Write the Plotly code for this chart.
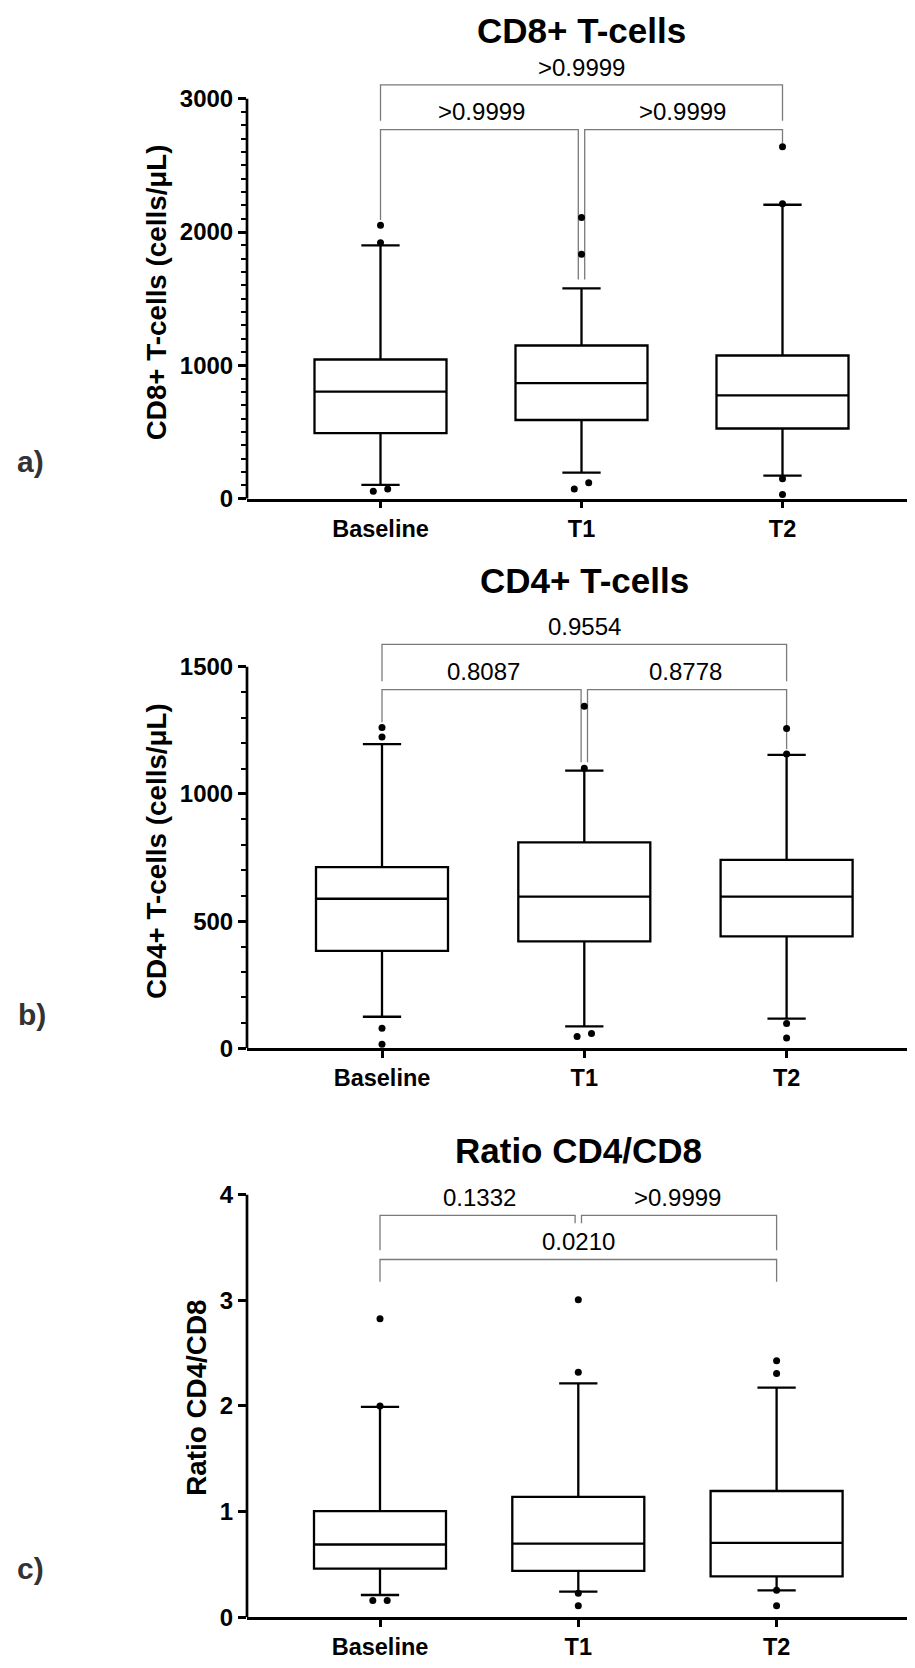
import plotly.graph_objects as go

# ---------------- data ----------------
categories = ["Baseline", "T1", "T2"]

# a) CD8+ T-cells (cells/µL)
cd8_q1 = [492, 590, 526]
cd8_median = [803, 867, 774]
cd8_q3 = [1044, 1149, 1074]
cd8_whisker_low = [103, 195, 172]
cd8_whisker_high = [1900, 1577, 2205]
cd8_outliers = [[2051, 1920, 56, 72], [2110, 1833, 72, 120], [2641, 2213, 149, 31]]
cd8_pvalues = [">0.9999", ">0.9999", ">0.9999"]

# b) CD4+ T-cells (cells/µL)
cd4_q1 = [383, 420, 440]
cd4_median = [588, 596, 596]
cd4_q3 = [712, 810, 741]
cd4_whisker_low = [124, 86, 117]
cd4_whisker_high = [1196, 1092, 1154]
cd4_outliers = [[1261, 1224, 79, 16], [1345, 1101, 46, 58], [1257, 1157, 97, 40]]
cd4_pvalues = ["0.8087", "0.8778", "0.9554"]

# c) Ratio CD4/CD8
ratio_q1 = [0.460, 0.439, 0.388]
ratio_median = [0.689, 0.698, 0.705]
ratio_q3 = [1.004, 1.140, 1.195]
ratio_whisker_low = [0.211, 0.242, 0.255]
ratio_whisker_high = [1.991, 2.213, 2.173]
ratio_outliers = [[2.825, 2.0, 0.160, 0.160], [3.004, 2.320, 0.228, 0.109], [2.427, 2.308, 0.255, 0.109]]
ratio_pvalues = ["0.1332", ">0.9999", "0.0210"]

# comparisons (group index pairs) and bracket placement in data units
pairs = [(0, 1), (1, 2), (0, 2)]
cd8_bracket_bar = [2769, 2769, 3104]
cd8_bracket_legs = [(2090, 1645), (1645, 2667), (2835, 2835)]
cd4_bracket_bar = [1410, 1410, 1588]
cd4_bracket_legs = [(1282, 1125), (1125, 1176), (1443, 1443)]
ratio_bracket_bar = [3.803, 3.803, 3.386]
ratio_bracket_legs = [(3.474, 3.730), (3.730, 3.474), (3.176, 3.176)]

# ---------------- layout helpers ----------------
PAGE_W, PAGE_H = 915, 1668
OFF = 8                      # default body margin of the html page
W, H = PAGE_W - OFF, PAGE_H - OFF
FONT = "Liberation Sans"
AX_LEFT, AX_RIGHT = 247, 915  # page pixels


def fx(px):
    return (px - OFF) / W


def fy(py):
    return 1 - (py - OFF) / H


panels = [
    dict(q1=cd8_q1, med=cd8_median, q3=cd8_q3, lo=cd8_whisker_low, hi=cd8_whisker_high,
         out=cd8_outliers, pv=cd8_pvalues, bar=cd8_bracket_bar, legs=cd8_bracket_legs,
         title="CD8+ T-cells", ytitle="CD8+ T-cells (cells/μL)", label="a)",
         ticks=[0, 1000, 2000, 3000], ticktext=["0", "1000", "2000", "3000"], minor=100,
         y0=502.5, yt=99.5, top=40, c0=380.5, dc=201, title_y=25.5,
         ytitle_x=156, ytitle_y=294.5, label_x=30, label_y=465),
    dict(q1=cd4_q1, med=cd4_median, q3=cd4_q3, lo=cd4_whisker_low, hi=cd4_whisker_high,
         out=cd4_outliers, pv=cd4_pvalues, bar=cd4_bracket_bar, legs=cd4_bracket_legs,
         title="CD4+ T-cells", ytitle="CD4+ T-cells (cells/μL)", label="b)",
         ticks=[0, 500, 1000, 1500], ticktext=["0", "500", "1000", "1500"], minor=100,
         y0=1056.5, yt=672, top=605, c0=382, dc=202.3, title_y=584,
         ytitle_x=156, ytitle_y=857.7, label_x=32, label_y=1022),
    dict(q1=ratio_q1, med=ratio_median, q3=ratio_q3, lo=ratio_whisker_low, hi=ratio_whisker_high,
         out=ratio_outliers, pv=ratio_pvalues, bar=ratio_bracket_bar, legs=ratio_bracket_legs,
         title="Ratio CD4/CD8", ytitle="Ratio CD4/CD8", label="c)",
         ticks=[0, 1, 2, 3, 4], ticktext=["0", "1", "2", "3", "4"], minor=None,
         y0=1630, yt=1204, top=1185, c0=380, dc=198.3, title_y=1159,
         ytitle_x=197, ytitle_y=1408.7, label_x=30, label_y=1581),
]

TITLE_SIZE = 35
TITLE_HALF = 0.6 * TITLE_SIZE  # half height of the title's text box


def spread(values, ppu_y, dx):
    """Beeswarm-like spread: points closer than a dot diameter sit side by side."""
    order = sorted(range(len(values)), key=lambda i: values[i])
    offs = [0.0] * len(values)
    i = 0
    while i < len(order) - 1:
        a, b = order[i], order[i + 1]
        if abs(values[b] - values[a]) * ppu_y < 8:
            offs[a], offs[b] = -dx, dx
            i += 2
        else:
            i += 1
    return offs


fig = go.Figure()
shapes, annotations = [], []
layout_axes = {}
BRACKET = dict(color="#7a7a7a", width=1.3)

for k, p in enumerate(panels):
    n = "" if k == 0 else str(k + 1)
    xa, ya = "x" + n, "y" + n
    ppu_y = (p["y0"] - p["yt"]) / p["ticks"][-1]
    ymax = (p["y0"] - p["top"]) / ppu_y
    xr = [(AX_LEFT - p["c0"]) / p["dc"], (AX_RIGHT - p["c0"]) / p["dc"]]
    pos = list(range(len(categories)))

    fig.add_trace(go.Box(
        x=pos, q1=p["q1"], median=p["med"], q3=p["q3"],
        lowerfence=p["lo"], upperfence=p["hi"],
        width=132 / p["dc"], whiskerwidth=0.29,
        fillcolor="white", line=dict(color="black", width=2.3),
        boxpoints=False, hoverinfo="skip", showlegend=False,
        xaxis=xa, yaxis=ya))

    ox, oy = [], []
    for g, vals in enumerate(p["out"]):
        offs = spread(vals, ppu_y, 7.2 / p["dc"])
        for v, o in zip(vals, offs):
            ox.append(pos[g] + o)
            oy.append(v)
    fig.add_trace(go.Scatter(
        x=ox, y=oy, mode="markers", marker=dict(color="black", size=7),
        hoverinfo="skip", showlegend=False, cliponaxis=False,
        xaxis=xa, yaxis=ya))

    # significance brackets
    gap = 3.2 / p["dc"]
    for (i, j), bar, (l0, l1), txt in zip(pairs, p["bar"], p["legs"], p["pv"]):
        xa0 = pos[i] + (gap if (i == 1) else 0)
        xa1 = pos[j] - (gap if (j == 1) else 0)
        shapes.append(dict(
            type="path", xref=xa, yref=ya, layer="below",
            path=f"M {xa0},{l0} L {xa0},{bar} L {xa1},{bar} L {xa1},{l1}",
            line=BRACKET))
        annotations.append(dict(
            x=(pos[i] + pos[j]) / 2, y=bar, xref=xa, yref=ya, text=txt,
            showarrow=False, yanchor="middle", yshift=17.7,
            font=dict(family=FONT, size=24, color="black")))

    # y-axis line (stops at the top tick)
    shapes.append(dict(type="line", xref=xa + " domain", yref=ya, x0=0, x1=0,
                       y0=0, y1=p["ticks"][-1], line=dict(color="black", width=2.7)))

    # titles and labels (title box kept inside the figure)
    title_top = max(p["title_y"] - TITLE_HALF, OFF + 1)
    annotations.append(dict(x=pos[1], xref=xa, y=fy(title_top), yref="paper",
                            text=p["title"], showarrow=False, xanchor="center", yanchor="top",
                            font=dict(family=FONT, size=TITLE_SIZE, color="black", weight="bold")))
    annotations.append(dict(x=fx(p["ytitle_x"]), xref="paper", y=fy(p["ytitle_y"]), yref="paper",
                            text=p["ytitle"], textangle=-90, showarrow=False,
                            xanchor="center", yanchor="middle",
                            font=dict(family=FONT, size=27.8, color="black", weight="bold")))
    annotations.append(dict(x=fx(p["label_x"]), xref="paper", y=fy(p["label_y"]), yref="paper",
                            text=p["label"], showarrow=False, xanchor="center", yanchor="middle",
                            font=dict(family=FONT, size=30, color="#333333", weight="bold")))

    minor = None
    if p["minor"]:
        step = p["minor"]
        minor = dict(tickmode="array",
                     tickvals=[v for v in range(0, p["ticks"][-1] + 1, step) if v not in p["ticks"]],
                     ticks="outside", ticklen=5, tickwidth=2, tickcolor="black")

    layout_axes["xaxis" + n] = dict(
        domain=[fx(AX_LEFT), fx(AX_RIGHT)], anchor=ya, range=xr,
        tickmode="array", tickvals=pos, ticktext=categories,
        showline=True, linecolor="black", linewidth=2.7,
        ticks="outside", ticklen=7, tickwidth=2.5, tickcolor="black",
        tickfont=dict(family=FONT, size=23.5, color="black", weight="bold"),
        showgrid=False, zeroline=False, fixedrange=True)
    yax = dict(
        domain=[fy(p["y0"]), fy(p["top"])], anchor=xa, range=[0, ymax],
        tickmode="array", tickvals=p["ticks"], ticktext=p["ticktext"],
        showline=False, ticks="outside", ticklen=8, tickwidth=2.5, tickcolor="black",
        tickfont=dict(family=FONT, size=24, color="black", weight="bold"),
        showgrid=False, zeroline=False, fixedrange=True)
    if minor:
        yax["minor"] = minor
    layout_axes["yaxis" + n] = yax

fig.update_layout(
    width=W, height=H, margin=dict(l=0, r=0, t=0, b=0),
    paper_bgcolor="white", plot_bgcolor="white",
    showlegend=False, shapes=shapes, annotations=annotations,
    font=dict(family=FONT, color="black"),
    **layout_axes)

fig.write_html("out.html")
